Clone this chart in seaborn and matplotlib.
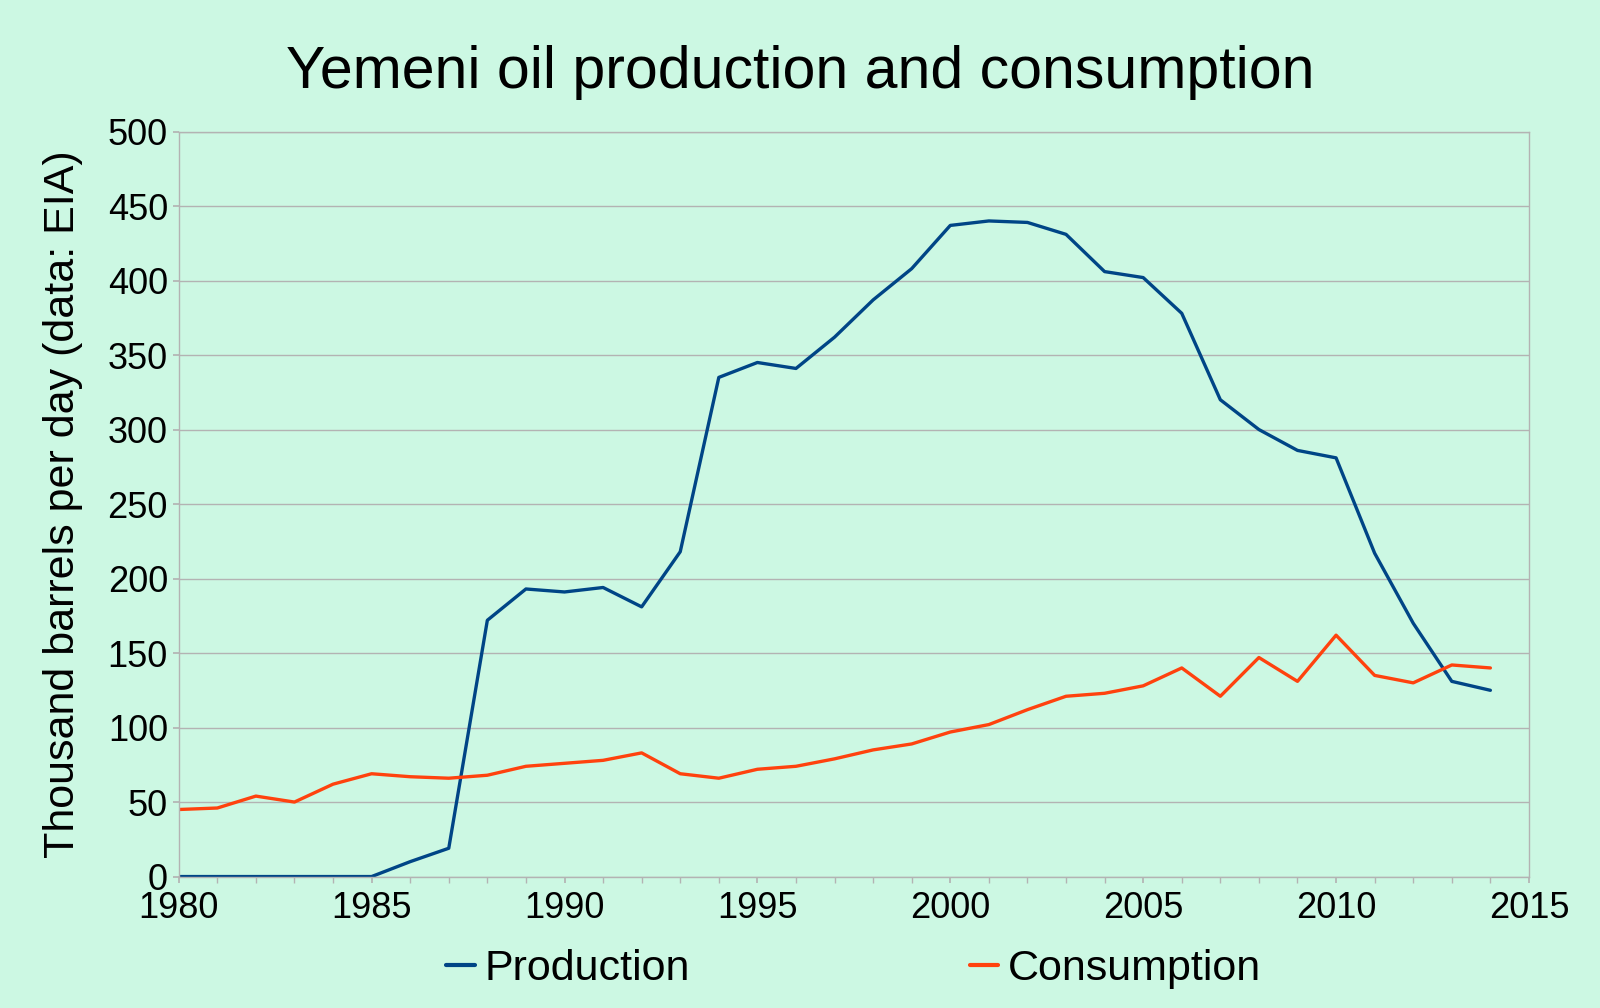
import pandas as pd
import seaborn as sns
import matplotlib.pyplot as plt
from matplotlib.ticker import MultipleLocator

# Yemeni oil data, thousand barrels per day
years = list(range(1980, 2015))
production = [0, 0, 0, 0, 0, 0, 10, 19, 172, 193,
              191, 194, 181, 218, 335, 345, 341, 362, 387, 408,
              437, 440, 439, 431, 406, 402, 378, 320, 300, 286,
              281, 217, 170, 131, 125]
consumption = [45, 46, 54, 50, 62, 69, 67, 66, 68, 74,
               76, 78, 83, 69, 66, 72, 74, 79, 85, 89,
               97, 102, 112, 121, 123, 128, 140, 121, 147, 131,
               162, 135, 130, 142, 140]
series_names = ['Production', 'Consumption']
series_colors = ['#004586', '#ff420e']

df = pd.DataFrame({'year': years, 'Production': production, 'Consumption': consumption})
df_long = df.melt(id_vars='year', var_name='series', value_name='value')

bg = '#ccf8e3'
grid_col = '#b3b3b3'

sns.set_theme(style='white')
plt.rcParams['font.family'] = ['Liberation Sans', 'DejaVu Sans']
plt.rcParams['text.color'] = 'black'
plt.rcParams['axes.labelcolor'] = 'black'

fig = plt.figure(figsize=(16, 10.08), dpi=100, facecolor=bg)
ax_left, ax_bottom, ax_w, ax_h = 0.1117, 0.1304, 0.8439, 0.7391
ax = fig.add_axes([ax_left, ax_bottom, ax_w, ax_h])
ax.set_facecolor(bg)

sns.lineplot(data=df_long, x='year', y='value', hue='series', hue_order=series_names,
             palette=dict(zip(series_names, series_colors)), linewidth=2.4, ax=ax)

ax.set_xlim(1980, 2015)
ax.set_ylim(0, 500)
ax.xaxis.set_major_locator(MultipleLocator(5))
ax.xaxis.set_minor_locator(MultipleLocator(1))
ax.yaxis.set_major_locator(MultipleLocator(50))
ax.grid(axis='y', color=grid_col, linewidth=1)
ax.set_axisbelow(True)
for s in ax.spines.values():
    s.set_color(grid_col)
    s.set_linewidth(1)
ax.tick_params(axis='both', which='both', direction='out', color=grid_col,
               labelsize=26, labelcolor='black')
ax.tick_params(axis='x', which='both', length=4.5, pad=6, bottom=True)
ax.tick_params(axis='y', length=4.3, left=True, pad=3.5)

ax.set_xlabel('')
ax.set_ylabel('Thousand barrels per day (data: EIA)', fontsize=31, labelpad=18)
fig.suptitle('Yemeni oil production and consumption', fontsize=42.5,
             x=0.5, y=0.928, va='center', color='black')

leg = ax.legend(loc='center', bbox_to_anchor=(ax_left + ax_w / 2, 0.039),
                bbox_transform=fig.transFigure, ncol=2, frameon=False,
                fontsize=31, handlelength=0.66, handletextpad=0.23, columnspacing=6.5)
for line in leg.get_lines():
    line.set_linewidth(3)

fig.savefig('out.png', dpi=100, facecolor=bg)
